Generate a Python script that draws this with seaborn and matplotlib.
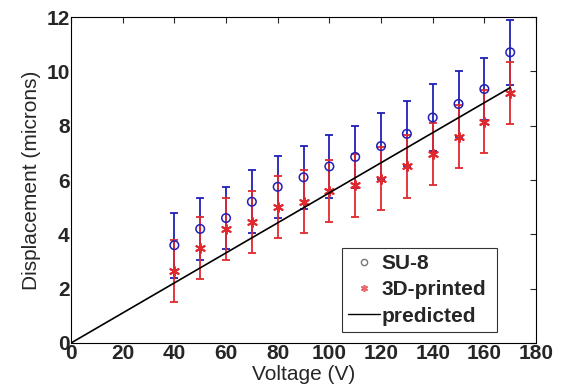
import pandas as pd
import seaborn as sns
import matplotlib.pyplot as plt
from matplotlib.lines import Line2D

# dati
voltaggio = [40, 50, 60, 70, 80, 90, 100, 110, 120, 130, 140, 150, 160, 170]
su8_media = [3.6, 4.2, 4.6, 5.2, 5.75, 6.1, 6.5, 6.85, 7.25, 7.7, 8.3, 8.8, 9.35, 10.7]
su8_err = [1.2, 1.15, 1.15, 1.15, 1.15, 1.15, 1.15, 1.15, 1.2, 1.2, 1.25, 1.2, 1.15, 1.2]
stampato_media = [2.65, 3.5, 4.2, 4.45, 5.0, 5.2, 5.6, 5.8, 6.05, 6.5, 6.95, 7.6, 8.15, 9.2]
stampato_err = [1.15, 1.15, 1.15, 1.15, 1.15, 1.15, 1.15, 1.15, 1.15, 1.15, 1.15, 1.15, 1.15, 1.15]
predetto_x = [0, 170]
predetto_y = [0, 9.4]

sns.set_style("white")
plt.rcParams['font.family'] = ['Liberation Sans', 'DejaVu Sans']

df = pd.DataFrame({'V': voltaggio, 'su8': su8_media, 'su8_e': su8_err,
                   'pr': stampato_media, 'pr_e': stampato_err})

fig = plt.figure(figsize=(5.61, 3.92), dpi=100)
ax = fig.add_axes([0.1266, 0.125, 0.8289, 0.8316])

blu = '#2020b8'
rosso = '#e0282f'

# barre di errore
ax.errorbar(df['V'], df['su8'], yerr=df['su8_e'], fmt='none', ecolor=blu,
            elinewidth=1.3, capsize=3.2, capthick=1.3, zorder=2)
ax.errorbar(df['V'], df['pr'], yerr=df['pr_e'], fmt='none', ecolor=rosso,
            elinewidth=1.3, capsize=3.2, capthick=1.3, zorder=3)

# punti
sns.scatterplot(data=df, x='V', y='su8', ax=ax, marker='o', s=38,
                facecolor='none', edgecolor=blu, linewidth=1.1, zorder=4, legend=False)
sns.scatterplot(data=df, x='V', y='pr', ax=ax, marker=(6, 2, 0), s=45,
                color=rosso, edgecolor=rosso, linewidth=1.4, zorder=5, legend=False)
sns.lineplot(x=predetto_x, y=predetto_y, ax=ax, color='black', linewidth=1.2,
             zorder=6, legend=False)

ax.set_xlim(0, 180)
ax.set_ylim(0, 12)
ax.set_xticks(range(0, 181, 20))
ax.set_yticks(range(0, 13, 2))
ax.tick_params(direction='in', top=True, right=True, length=4, width=0.8,
               labelsize=15, pad=1)
for lab in ax.get_xticklabels() + ax.get_yticklabels():
    lab.set_fontweight('bold')
for sp in ax.spines.values():
    sp.set_color('black')
    sp.set_linewidth(0.8)

ax.set_xlabel('Voltage (V)', fontsize=15, labelpad=1)
ax.set_ylabel('Displacement (microns)', fontsize=15, labelpad=4)

# legenda
maniglie = [
    Line2D([], [], marker='o', linestyle='none', markerfacecolor='none',
           markeredgecolor='#777777', markersize=4.5),
    Line2D([], [], marker=(6, 2, 0), linestyle='none', color='#e86a70',
           markersize=5, markeredgewidth=1.2),
    Line2D([], [], color='black', linewidth=1),
]
leg = ax.legend(maniglie, ['SU-8', '3D-printed', 'predicted'],
                loc='lower left', bbox_to_anchor=(0.583, 0.034, 0.333, 0.27),
                mode='expand', prop={'weight': 'bold', 'size': 15}, frameon=True,
                fancybox=False, edgecolor='black', handlelength=1.5,
                handletextpad=0.1, borderpad=0.3, labelspacing=0.35,
                borderaxespad=0)
leg.get_frame().set_linewidth(0.8)

fig.savefig('out.png', dpi=100)
